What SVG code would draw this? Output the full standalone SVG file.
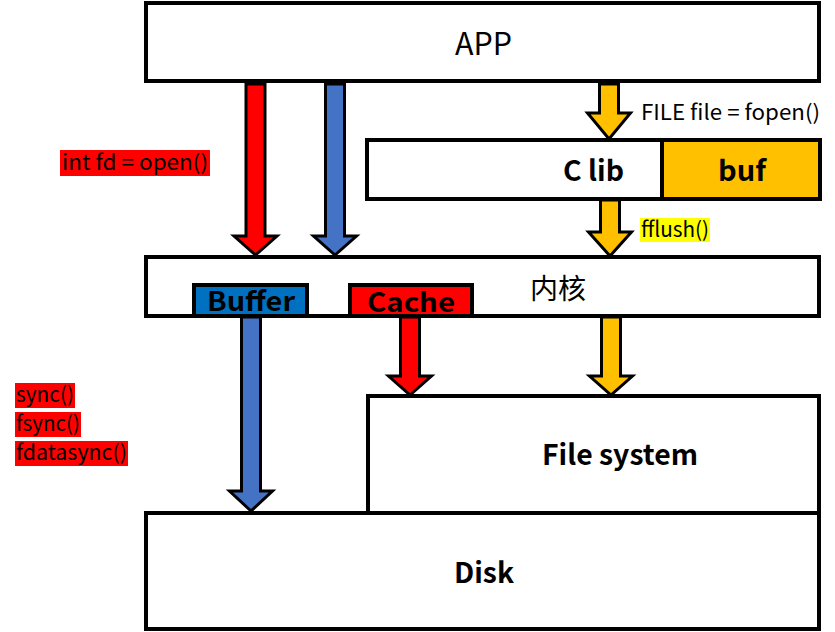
<svg xmlns="http://www.w3.org/2000/svg" width="835" height="632" viewBox="0 0 835 632">
<style>
.box{fill:#fff;stroke:#000;stroke-width:4}
.t{font-family:"Noto Sans CJK SC","Open Sans",sans-serif;fill:#000;text-anchor:middle}
.b{font-weight:bold}
.lbl{font-family:"Noto Sans CJK SC","Open Sans",sans-serif;font-size:21px;fill:#000}
.arr{stroke:#000;stroke-width:3;stroke-linejoin:miter}
.red{fill:#FF0000}.blue{fill:#4472C4}.yel{fill:#FFC000}
</style>
<rect width="835" height="632" fill="#fff"/>
<g id="app"><rect class="box" x="146" y="3" width="673" height="78"/><text class="t" x="483.5" y="54.5" font-size="31" textLength="57" lengthAdjust="spacingAndGlyphs">APP</text></g>
<g id="clib"><rect class="box" x="367" y="140" width="453" height="59"/><rect x="662" y="140" width="158" height="59" fill="#FFC000" stroke="#000" stroke-width="4"/><text class="t b" x="593.5" y="181" font-size="28" textLength="61" lengthAdjust="spacingAndGlyphs">C lib</text><text class="t b" x="742" y="181" font-size="28" textLength="48" lengthAdjust="spacingAndGlyphs">buf</text></g>
<g id="kernel"><rect class="box" x="146" y="257" width="673" height="59"/><text class="t" x="558" y="299" font-size="28">内核</text>
<rect x="194" y="285" width="113" height="31" fill="#0070C0" stroke="#000" stroke-width="4"/><text class="t b" x="251" y="311" font-size="27" textLength="88" lengthAdjust="spacingAndGlyphs">Buffer</text>
<rect x="350" y="285" width="122" height="31" fill="#FF0000" stroke="#000" stroke-width="4"/><text class="t b" x="411" y="312" font-size="27" textLength="88" lengthAdjust="spacingAndGlyphs">Cache</text></g>
<g id="fs"><rect class="box" x="368" y="396" width="451" height="117"/><text class="t b" x="620" y="465" font-size="28" textLength="156" lengthAdjust="spacingAndGlyphs">File system</text></g>
<g id="disk"><rect class="box" x="146" y="513" width="673" height="116"/><text class="t b" x="484" y="583" font-size="28" textLength="60" lengthAdjust="spacingAndGlyphs">Disk</text></g>
<g id="labels">
<rect x="60" y="150" width="150" height="26" fill="#FF0000"/><text class="lbl" x="62" y="170" textLength="146" lengthAdjust="spacingAndGlyphs">int fd = open()</text>
<text class="lbl" x="641" y="120" fill="#111" textLength="179" lengthAdjust="spacingAndGlyphs">FILE file = fopen()</text>
<rect x="640" y="218" width="70" height="24" fill="#FFFF00"/><text class="lbl" x="641" y="237" textLength="68" lengthAdjust="spacingAndGlyphs">fflush()</text>
<rect x="15" y="383" width="60" height="25" fill="#FF0000"/><text class="lbl" x="16" y="402" textLength="58" lengthAdjust="spacingAndGlyphs">sync()</text>
<rect x="15" y="412" width="66" height="25" fill="#FF0000"/><text class="lbl" x="16" y="431" textLength="64" lengthAdjust="spacingAndGlyphs">fsync()</text>
<rect x="15" y="441" width="113" height="25" fill="#FF0000"/><text class="lbl" x="16" y="460" textLength="111" lengthAdjust="spacingAndGlyphs">fdatasync()</text>
</g>
<g id="connectors">
<path class="arr red" d="M246,84 H265 V236 H277 L255.5,255 L234,236 H246 Z"/>
<path class="arr blue" d="M325.5,84 H344.5 V236 H356.5 L335,255 L313.5,236 H325.5 Z"/>
<path class="arr yel" d="M599.5,84 H618.5 V113 H630.5 L609,139 L587.5,113 H599.5 Z"/>
<path class="arr yel" d="M600.5,200 H619.5 V232 H631.5 L610,256 L588.5,232 H600.5 Z"/>
<path class="arr blue" d="M241.5,317 H260.5 V491 H272.5 L251,511 L229.5,491 H241.5 Z"/>
<path class="arr red" d="M400.5,317 H419.5 V376 H431.5 L410,395 L388.5,376 H400.5 Z"/>
<path class="arr yel" d="M601.5,317 H620.5 V376 H632.5 L611,395 L589.5,376 H601.5 Z"/>
</g>
</svg>
